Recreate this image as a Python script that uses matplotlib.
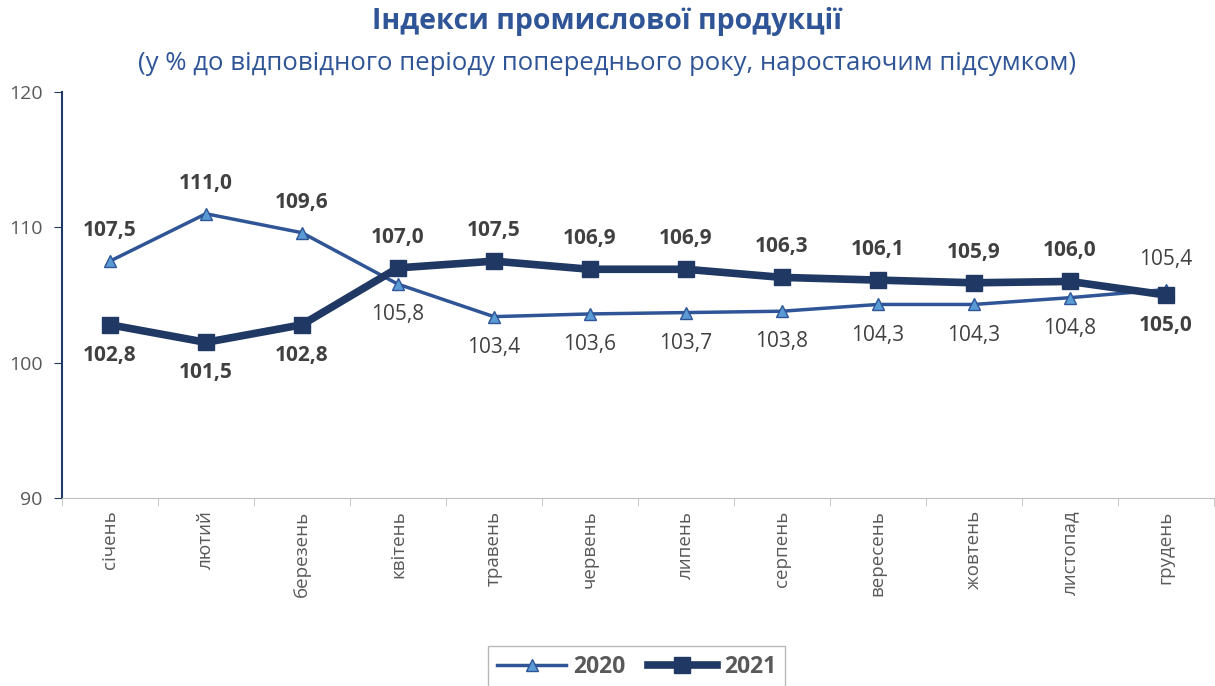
import matplotlib
matplotlib.use("Agg")
import matplotlib.pyplot as plt
import numpy as np

plt.rcParams['font.family'] = ['Open Sans', 'DejaVu Sans']

months = ["січень", "лютий", "березень", "квітень", "травень", "червень",
          "липень", "серпень", "вересень", "жовтень", "листопад", "грудень"]
v2020 = [107.5, 111.0, 109.6, 105.8, 103.4, 103.6, 103.7, 103.8, 104.3, 104.3, 104.8, 105.4]
v2021 = [102.8, 101.5, 102.8, 107.0, 107.5, 106.9, 106.9, 106.3, 106.1, 105.9, 106.0, 105.0]
# label placement: +1 above, -1 below; bold flag for 2020 labels
pos2020 = [1, 1, 1, -1, -1, -1, -1, -1, -1, -1, -1, 1]
bold2020 = [True, True, True] + [False] * 9
pos2021 = [-1, -1, -1, 1, 1, 1, 1, 1, 1, 1, 1, -1]

c2020 = "#2F5597"
c2020_face = "#5B9BD5"
c2021 = "#1F3864"
txt = "#404040"

fig = plt.figure(figsize=(12.15, 6.86), dpi=100)
ax = fig.add_axes([0.051, 0.274, 0.948, 0.592])

x = np.arange(len(months))
ax.plot(x, v2020, color=c2020, lw=2.5, marker="^", ms=8,
        markerfacecolor=c2020_face, markeredgecolor=c2020, label="2020", zorder=3)
ax.plot(x, v2021, color=c2021, lw=5.5, marker="s", ms=11,
        markerfacecolor=c2021, markeredgecolor=c2021, label="2021", zorder=4)

def fmt(v):
    return "{:.1f}".format(v).replace(".", ",")

for i, v in enumerate(v2020):
    ax.annotate(fmt(v), (i, v), xytext=(0, 22 * pos2020[i]), textcoords="offset points",
                ha="center", va="center", fontsize=15, color=txt,
                fontweight="bold" if bold2020[i] else "normal")
for i, v in enumerate(v2021):
    ax.annotate(fmt(v), (i, v), xytext=(0, 22 * pos2021[i]), textcoords="offset points",
                ha="center", va="center", fontsize=15, color=txt, fontweight="bold")

ax.set_xlim(-0.5, len(months) - 0.5)
ax.set_ylim(90, 120)
ax.set_yticks([90, 100, 110, 120])
ax.set_xticks(x)
ax.set_xticklabels(months, rotation=90, fontsize=13.5, color="#595959")
ax.set_xticks(np.arange(-0.5, len(months), 1), minor=True)
ax.tick_params(axis="x", which="major", length=0, pad=9)
ax.tick_params(axis="x", which="minor", length=6, color="#BFBFBF")
ax.tick_params(axis="y", labelsize=14, labelcolor="#595959", color=c2021, length=6, pad=8)

for s in ["top", "right"]:
    ax.spines[s].set_visible(False)
ax.spines["left"].set_color(c2021)
ax.spines["left"].set_linewidth(1.5)
ax.spines["bottom"].set_color("#BFBFBF")

fig.text(0.5, 0.968, "Індекси промислової продукції", ha="center", va="center",
         fontsize=20.5, fontweight="bold", color="#2F5597")
fig.text(0.5, 0.908, "(у % до відповідного періоду попереднього року, наростаючим підсумком)",
         ha="center", va="center", fontsize=18.5, color="#2F5597")

leg = fig.legend(loc="lower center", bbox_to_anchor=(0.524, -0.02), ncol=2,
                 frameon=True, fancybox=False, edgecolor="#A6A6A6",
                 prop={"size": 16.5, "weight": "bold"}, handlelength=3,
                 columnspacing=1.0, handletextpad=0.3)
for t in leg.get_texts():
    t.set_color("#595959")

fig.savefig("out.png", dpi=100)
